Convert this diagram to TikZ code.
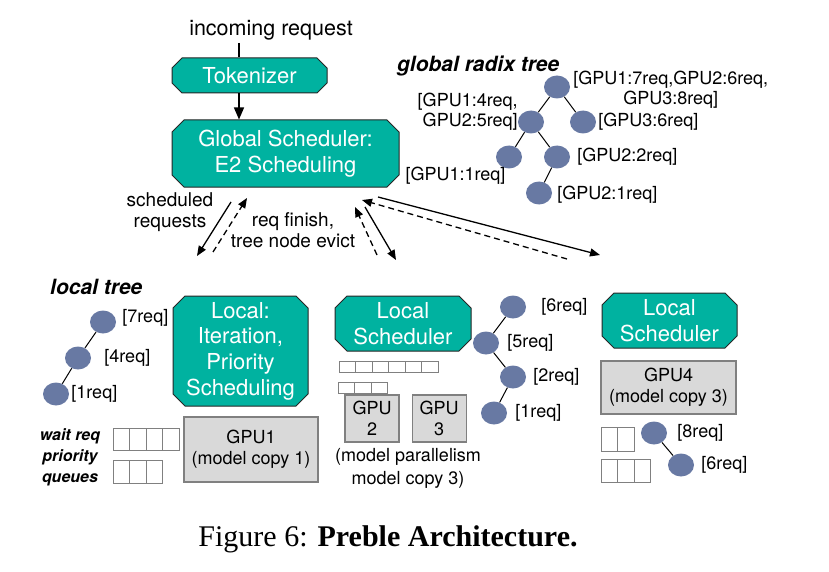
\documentclass[tikz,border=0pt]{standalone}
\usepackage{fontspec}
\newfontfamily\helv{TeX Gyre Heros}
\newfontfamily\capfont{Liberation Serif}
\usepackage{tikz}
\usetikzlibrary{arrows.meta,positioning,shapes.geometric,shapes.misc}
\definecolor{prteal}{RGB}{0,178,160}
\definecolor{prnode}{RGB}{104,121,163}
\definecolor{prgray}{RGB}{217,217,217}
\definecolor{prline}{RGB}{128,128,128}

\begin{document}
\begin{tikzpicture}[
    x=1pt, y=-1pt,
    sched/.style={chamfered rectangle, chamfered rectangle xsep=6pt, chamfered rectangle ysep=6pt, draw=black!85, line width=1pt, fill=prteal, text=white, align=center, font=\helv\fontsize{22}{25.6}\selectfont, inner sep=0pt},
    gpubox/.style={rectangle, draw=prline, fill=prgray, line width=1.2pt, align=center, font=\helv\fontsize{18}{21}\selectfont, inner sep=0pt},
    cell/.style={rectangle, draw=prline, fill=white, line width=1pt, minimum width=16.5pt, inner sep=0pt, outer sep=0pt},
    tnode/.style={ellipse, fill=prnode, minimum width=26pt, minimum height=23pt, inner sep=0pt},
    tedge/.style={line width=1pt, black},
    tlabel/.style={font=\helv\fontsize{18}{20}\selectfont, inner sep=0pt, align=center},
    title/.style={font=\helv\bfseries\itshape\fontsize{21}{24}\selectfont, inner sep=0pt},
    txt/.style={font=\helv\fontsize{19}{21}\selectfont, inner sep=0pt, align=center},
    arrow/.style={-{Triangle[length=10pt,width=8pt]}, line width=1.3pt},
    darrow/.style={arrow, dash pattern=on 6pt off 4pt}
]
\useasboundingbox (0,0) rectangle (829,572);

% Entry: request and tokenizer
\node[txt, font=\helv\fontsize{21.5}{24}\selectfont] (inreq) at (271,30) {incoming request};
\node[sched, minimum width=155pt, minimum height=35pt, chamfered rectangle xsep=5pt, chamfered rectangle ysep=5pt] (tok) at (249.5,75.5) {Tokenizer};
\node[sched, minimum width=227pt, minimum height=67pt] (glob) at (285.5,153.5) {Global Scheduler:\\E2 Scheduling};
\coordinate (tokin) at (239,43);
\draw[line width=1.3pt] (tokin) -- (tokin |- tok.north);
\draw[arrow, -{Triangle[length=12pt,width=10pt]}] (tokin |- tok.south) -- (tokin |- glob.north);

% Global radix tree
\node[title, anchor=west] (gtitle) at (397,66) {global radix tree};
\node[tnode] (g0) at (557,87) {};
\node[tnode] (g1) at (531,122) {};
\node[tnode] (g2) at (583,122) {};
\node[tnode] (g11) at (509,157) {};
\node[tnode] (g12) at (557,157) {};
\node[tnode] (g121) at (539,193) {};
\draw[tedge] (g0) -- (g1);
\draw[tedge] (g0) -- (g2);
\draw[tedge] (g1) -- (g11);
\draw[tedge] (g1) -- (g12);
\draw[tedge] (g12) -- (g121);
\node[tlabel, right=3pt of g0, yshift=-3pt] (g0lbl) {[GPU1:7req,GPU2:6req,\\GPU3:8req]};
\node[tlabel, left=0pt of g1, yshift=10pt, align=right] (g1lbl) {[GPU1:4req,\\GPU2:5req]};
\node[tlabel, right=2pt of g2] (g2lbl) {[GPU3:6req]};
\node[tlabel, below left=1.5pt and -6pt of g11] (g11lbl) {[GPU1:1req]};
\node[tlabel, right=7pt of g12] (g12lbl) {[GPU2:2req]};
\node[tlabel, right=5pt of g121, yshift=-2pt] (g121lbl) {[GPU2:1req]};

% Global <-> local traffic
\coordinate (sa) at (231,202);  \coordinate (sb) at (197,256);
\coordinate (fa) at (213,252);  \coordinate (fb) at (247,198);
\coordinate (ma) at (377,255);  \coordinate (mb) at (355,207);
\coordinate (na) at (365,207);  \coordinate (nb) at (396,260);
\coordinate (ra) at (378,197);  \coordinate (rb) at (600,255);
\coordinate (qa) at (567,259);  \coordinate (qb) at (362,200);
\draw[arrow] (sa) -- (sb);
\draw[darrow] (fa) -- (fb);
\draw[darrow] (ma) -- (mb);
\draw[arrow] (na) -- (nb);
\draw[arrow] (ra) -- (rb);
\draw[darrow] (qa) -- (qb);
\node[txt] (schedlbl) at (170,212) {scheduled\\requests};
\node[txt] (finlbl) at (293,230) {req finish,\\tree node evict};

% Instance 1: local tree, scheduler, queues, GPU1
\node[title, anchor=west] (ltitle) at (50,287) {local tree};
\node[tnode] (l1) at (103,322) {};
\node[tnode] (l2) at (78,358) {};
\node[tnode] (l3) at (56,394) {};
\draw[tedge] (l1) -- (l2);
\draw[tedge] (l2) -- (l3);
\node[tlabel, right=6pt of l1, yshift=4pt] (l1lbl) {[7req]};
\node[tlabel, right=13pt of l2] (l2lbl) {[4req]};
\node[tlabel, right=2pt of l3] (l3lbl) {[1req]};
\node[sched, minimum width=135pt, minimum height=110pt] (loc1) at (240.5,351) {Local:\\Iteration,\\Priority\\Scheduling};
\node[gpubox, minimum width=134pt, minimum height=65pt] (gpu1) at (251,449.5) {GPU1\\(model copy 1)};
\node[txt, font=\helv\bfseries\itshape\fontsize{16}{21}\selectfont] (waitq) at (70,457) {wait req\\priority\\queues};

% Queues (name/x/y/cells/height)
\foreach \nm/\x/\y/\n/\h in {qa/113/428/4/22, qb/113/460/3/23, qc/339/361/6/11, qd/338/382/3/11, qe/601/427/2/24, qf/601/459/3/23}
  \foreach \i in {1,...,\n}
    \node[cell, minimum height=\h pt, anchor=north west] (\nm\i) at (\x+16.5*\i-16.5,\y) {};

% Instance 2: GPU2 + GPU3
\node[sched, minimum width=136pt, minimum height=55pt] (loc2) at (403,323.5) {Local\\Scheduler};
\node[gpubox, minimum width=54pt, minimum height=47pt] (gpu2) at (372,418.5) {GPU\\2};
\node[gpubox, minimum width=54pt, minimum height=47pt, right=12pt of gpu2] (gpu3) {GPU\\3};
\node[tlabel, font=\helv\fontsize{18}{22.5}\selectfont] (mpar) at (408,468.5) {(model parallelism\\model copy 3)};
\node[tnode] (m1) at (513,307) {};
\node[tnode] (m2) at (486,343) {};
\node[tnode] (m3) at (513,377) {};
\node[tnode] (m4) at (494,413) {};
\draw[tedge] (m1) -- (m2);
\draw[tedge] (m2) -- (m3);
\draw[tedge] (m3) -- (m4);
\node[tlabel, right=15pt of m1] (m1lbl) {[6req]};
\node[tlabel, right=8pt of m2] (m2lbl) {[5req]};
\node[tlabel, right=7pt of m3] (m3lbl) {[2req]};
\node[tlabel, right=8pt of m4] (m4lbl) {[1req]};

% Instance 3: GPU4
\node[sched, minimum width=135pt, minimum height=55pt] (loc3) at (669.5,320.5) {Local\\Scheduler};
\node[gpubox, minimum width=135pt, minimum height=53pt] (gpu4) at (668.5,387.5) {GPU4\\(model copy 3)};
\node[tnode] (r1) at (654,433) {};
\node[tnode] (r2) at (681,465) {};
\draw[tedge] (r1) -- (r2);
\node[tlabel, right=10pt of r1] (r1lbl) {[8req]};
\node[tlabel, right=7pt of r2] (r2lbl) {[6req]};

% Caption
\node[font=\capfont\fontsize{30}{34}\selectfont, inner sep=0pt, anchor=base] (cap) at (388,546) {Figure 6: \textbf{Preble Architecture.}};

\end{tikzpicture}
\end{document}
